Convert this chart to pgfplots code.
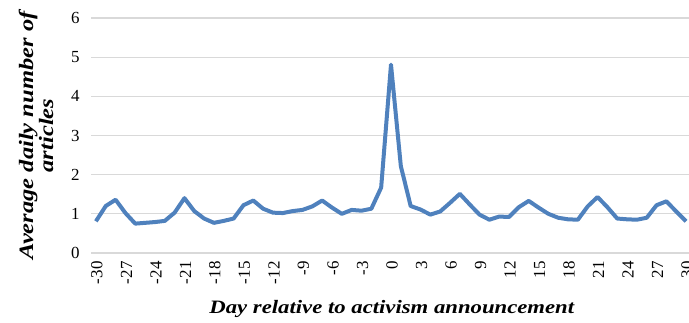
\documentclass[border=0pt]{standalone}
\usepackage{fontspec}
\setmainfont{Liberation Serif}
\newfontfamily\labelfont[FakeStretch=1.2]{Liberation Serif}
\usepackage{pgfplots}
\pgfplotsset{compat=1.18}
\definecolor{lineblue}{HTML}{4F81BD}
\definecolor{gridgray}{HTML}{D9D9D9}
\begin{document}
\begin{tikzpicture}[x=1bp,y=1bp]
\useasboundingbox (0,0) rectangle (689,322);
\begin{axis}[
  at={(91bp,69bp)}, anchor=south west,
  scale only axis, width=598bp, height=235bp,
  xmin=-30.5, xmax=30.3, ymin=0, ymax=6,
  ytick={0,1,2,3,4,5,6},
  xtick={-30,-27,-24,-21,-18,-15,-12,-9,-6,-3,0,3,6,9,12,15,18,21,24,27,30},
  xticklabels={-30,-27,-24,-21,-18,-15,-12,-9,-6,-3,0,3,6,9,12,15,18,21,24,27,30},
  yticklabels={0,1,2,3,4,5,6},
  axis line style={draw=none},
  major tick length=0pt,
  ymajorgrids, grid style={gridgray, line width=1.3bp},
  yticklabel style={font=\fontsize{17}{17}\selectfont, xshift=-8bp},
  xticklabel style={font=\fontsize{17}{17}\selectfont, rotate=90, anchor=east, xshift=-5bp, yshift=-1bp},
  xlabel={Day relative to activism announcement},
  xlabel style={font=\labelfont\bfseries\itshape\fontsize{19}{20}\selectfont, at={(axis description cs:0.503,-0.238)}, anchor=center},
  ylabel={Average daily number of\\articles},
  ylabel style={font=\labelfont\bfseries\itshape\fontsize{20.5}{20}\selectfont, align=center, at={(axis description cs:-0.092,0.5)}, anchor=center},
  clip=false,
]
\addplot[lineblue, line width=4bp, line join=round, no markers] table {
x y
-30 0.81
-29 1.20
-28 1.36
-27 1.02
-26 0.75
-25 0.77
-24 0.79
-23 0.82
-22 1.03
-21 1.40
-20 1.07
-19 0.88
-18 0.77
-17 0.82
-16 0.88
-15 1.22
-14 1.34
-13 1.13
-12 1.03
-11 1.02
-10 1.07
-9 1.10
-8 1.19
-7 1.34
-6 1.16
-5 1.00
-4 1.10
-3 1.08
-2 1.13
-1 1.67
0 4.81
1 2.22
2 1.20
3 1.11
4 0.98
5 1.06
6 1.28
7 1.51
8 1.24
9 0.98
10 0.85
11 0.93
12 0.92
13 1.17
14 1.33
15 1.16
16 1.00
17 0.90
18 0.86
19 0.85
20 1.19
21 1.43
22 1.17
23 0.88
24 0.86
25 0.85
26 0.90
27 1.22
28 1.32
29 1.06
30 0.81
};
\end{axis}
\end{tikzpicture}
\end{document}
